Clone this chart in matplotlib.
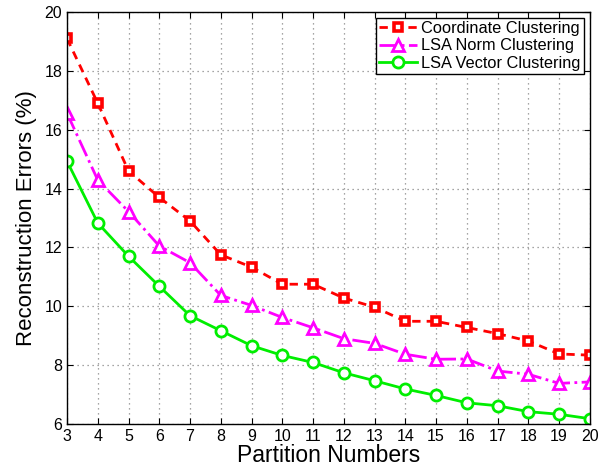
import numpy as np
from matplotlib import pyplot as plt

plt.rcParams['font.family'] = ['Liberation Sans', 'DejaVu Sans']

partitions = list(range(3, 21))
coord = [19.1, 16.9, 14.6, 13.7, 12.9, 11.75, 11.33, 10.75, 10.75, 10.28,
         9.97, 9.49, 9.49, 9.28, 9.07, 8.82, 8.38, 8.34]
lsa_norm = [16.56, 14.29, 13.22, 12.05, 11.48, 10.37, 10.03, 9.62, 9.27, 8.9,
            8.74, 8.37, 8.2, 8.21, 7.8, 7.69, 7.38, 7.43]
lsa_vector = [14.93, 12.83, 11.7, 10.68, 9.68, 9.17, 8.66, 8.33, 8.09, 7.74,
              7.47, 7.19, 6.97, 6.72, 6.62, 6.42, 6.33, 6.18]

fig = plt.figure(figsize=(6.01, 4.73), dpi=100)
ax = fig.add_axes([0.1115, 0.1036, 0.870, 0.871])

lw = 2.0
ax.plot(partitions, coord, 's--', color='#FF0000', lw=lw, ms=5.5, mew=2.6,
        mfc='white', dashes=(3, 2.2), label='Coordinate Clustering')
ax.plot(partitions, lsa_norm, '^-.', color='#FF00FF', lw=lw, ms=8.5, mew=2,
        mfc='white', label='LSA Norm Clustering')
ax.plot(partitions, lsa_vector, 'o-', color='#00EE00', lw=lw, ms=8, mew=2,
        mfc='white', label='LSA Vector Clustering')

ax.set_xlim(3, 20)
ax.set_ylim(6, 20)
ax.set_xticks(partitions)
ax.set_yticks(np.arange(6, 21, 2))
ax.grid(True, ls=(0, (1, 3)), color='#888888', lw=0.9)
ax.tick_params(direction='in', top=True, right=True, labelsize=11.5, length=4)
for s in ax.spines.values():
    s.set_linewidth(1.0)

ax.set_xlabel('Partition Numbers', fontsize=16.5, labelpad=0)
ax.set_ylabel('Reconstruction Errors (%)', fontsize=16, labelpad=5)

leg = ax.legend(loc='upper right', fontsize=11.8, fancybox=False,
                edgecolor='black', framealpha=1, handlelength=2.3,
                borderaxespad=0.35, borderpad=0.2, labelspacing=0.15,
                handletextpad=0.3)
leg.get_frame().set_linewidth(1.0)

fig.savefig('out.png', dpi=100)
